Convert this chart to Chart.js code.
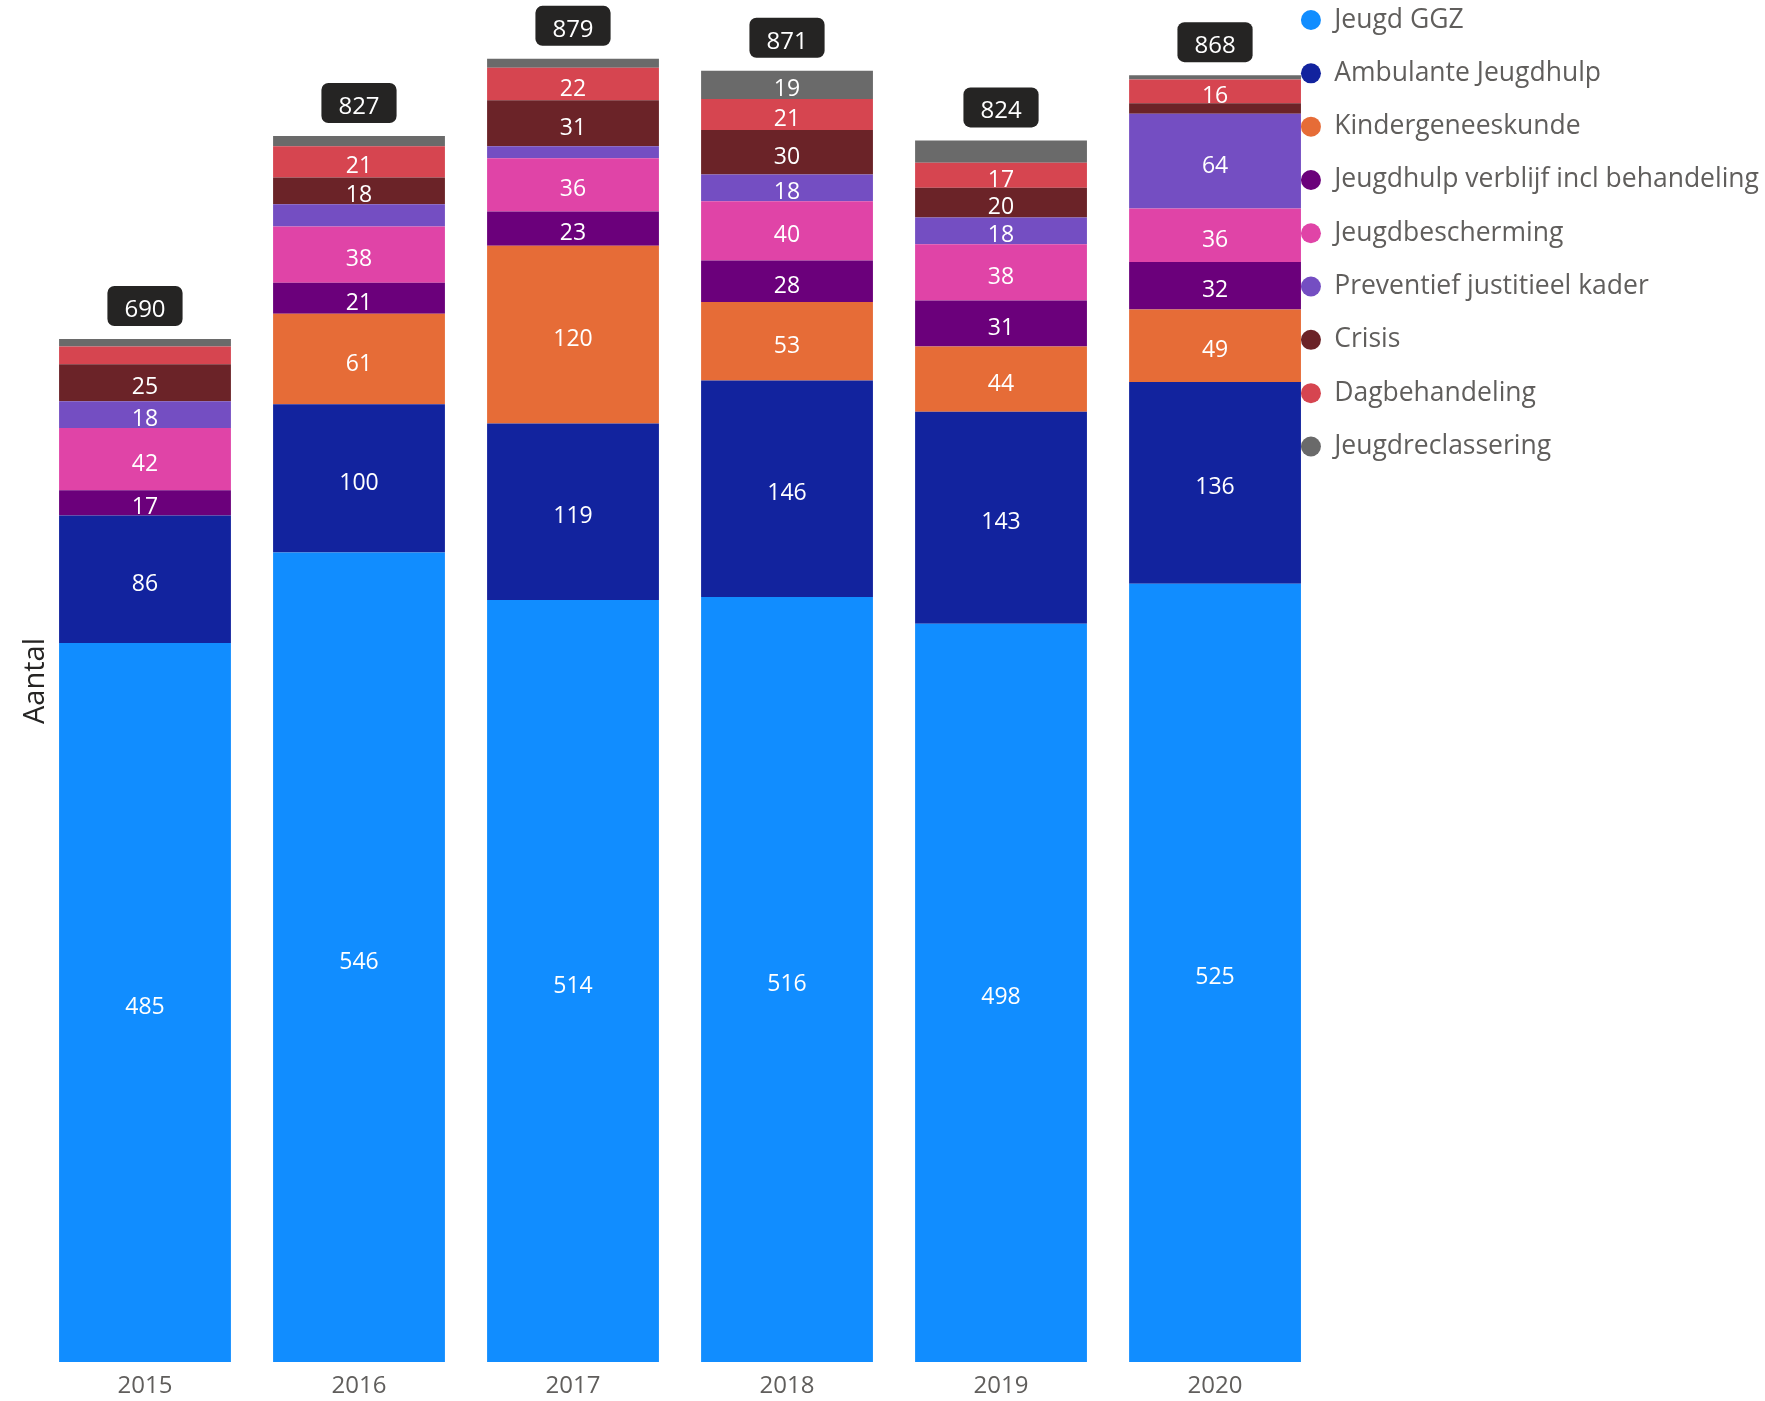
<!DOCTYPE html>
<html>
<head>
<meta charset="utf-8">
<script src="https://cdn.jsdelivr.net/npm/chart.js@4.4.1/dist/chart.umd.min.js"></script>
<style>
  html, body { margin: 0; padding: 0; background: #ffffff; }
  canvas { display: block; }
</style>
</head>
<body>
<canvas id="c" width="1765" height="1401"></canvas>
<script>
// ---- data ----
const years = ['2015', '2016', '2017', '2018', '2019', '2020'];
const seriesNames = [
  'Jeugd GGZ', 'Ambulante Jeugdhulp', 'Kindergeneeskunde',
  'Jeugdhulp verblijf incl behandeling', 'Jeugdbescherming',
  'Preventief justitieel kader', 'Crisis', 'Dagbehandeling', 'Jeugdreclassering'
];
const jeugdGGZ          = [485, 546, 514, 516, 498, 525];
const ambulante         = [86, 100, 119, 146, 143, 136];
const kindergeneeskunde = [0, 61, 120, 53, 44, 49];
const verblijf          = [17, 21, 23, 28, 31, 32];
const jeugdbescherming  = [42, 38, 36, 40, 38, 36];
const preventief        = [18, 15, 8, 18, 18, 64];
const crisis            = [25, 18, 31, 30, 20, 7];
const dagbehandeling    = [12, 21, 22, 21, 17, 16];
const jeugdreclassering = [5, 7, 6, 19, 15, 3];

// ---- style ----
const seriesValues = [jeugdGGZ, ambulante, kindergeneeskunde, verblijf, jeugdbescherming,
                      preventief, crisis, dagbehandeling, jeugdreclassering];
const seriesColors = ['#118DFF', '#12239E', '#E66C37', '#6B007B', '#E044A7',
                      '#744EC2', '#6B2328', '#D64550', '#6A6A6A'];
const FONT = "'Open Sans', 'Noto Sans', sans-serif";
const MIN_LABEL = 16;

const segLabels = {
  id: 'segLabels',
  afterDatasetsDraw(chart) {
    const ctx = chart.ctx;
    ctx.save();
    ctx.textAlign = 'center';
    ctx.textBaseline = 'middle';
    ctx.font = '23px ' + FONT;
    ctx.fillStyle = '#ffffff';
    chart.data.datasets.forEach((ds, i) => {
      const meta = chart.getDatasetMeta(i);
      meta.data.forEach((el, j) => {
        const v = ds.data[j];
        if (v >= MIN_LABEL) ctx.fillText(String(v), el.x, (el.y + el.base) / 2 + 5);
      });
    });
    const yScale = chart.scales.y;
    const meta0 = chart.getDatasetMeta(0);
    ctx.font = '24px ' + FONT;
    years.forEach((yr, j) => {
      const total = chart.data.datasets.reduce((s, ds) => s + (ds.data[j] || 0), 0);
      const top = yScale.getPixelForValue(total);
      const x = meta0.data[j].x;
      const txt = String(total);
      const w = ctx.measureText(txt).width + 34;
      const h = 40;
      const by = top - 13 - h;
      ctx.fillStyle = '#252423';
      ctx.beginPath();
      ctx.roundRect(x - w / 2, by, w, h, 7);
      ctx.fill();
      ctx.fillStyle = '#ffffff';
      ctx.fillText(txt, x, by + h / 2 + 4);
    });
    ctx.restore();
  }
};

const legendShift = {
  id: 'legendShift',
  afterLayout(chart) {
    const lg = chart.legend;
    if (!lg) return;
    lg.top -= 20;
    lg.bottom -= 20;
  }
};

new Chart(document.getElementById('c'), {
  type: 'bar',
  data: {
    labels: years,
    datasets: seriesNames.map((name, i) => ({
      label: name,
      data: seriesValues[i],
      backgroundColor: seriesColors[i],
      borderWidth: 0,
      clip: false,
      categoryPercentage: 1,
      barPercentage: 0.803
    }))
  },
  options: {
    responsive: false,
    animation: false,
    devicePixelRatio: 1,
    layout: { padding: { left: 11.2, right: -4, top: 0, bottom: -9 } },
    scales: {
      x: {
        type: 'linear',
        stacked: true,
        offset: false,
        min: 2014.5748,
        max: 2020.2762,
        grid: { display: false, drawTicks: false, offset: false },
        border: { display: false },
        afterBuildTicks: (axis) => { axis.ticks = years.map(y => ({ value: +y })); },
        ticks: {
          callback: (v) => String(v),
          font: { family: FONT, size: 24 },
          color: '#605E5C',
          padding: 9.6,
          autoSkip: false,
          maxRotation: 0
        }
      },
      y: {
        stacked: true,
        min: 0,
        max: 918.7,
        grid: { display: false, drawTicks: false },
        border: { display: false },
        ticks: { display: false },
        title: {
          display: true,
          text: 'Aantal',
          font: { family: FONT, size: 29 },
          color: '#252423',
          padding: { top: 7, bottom: 1 }
        }
      }
    },
    plugins: {
      tooltip: { enabled: false },
      legend: {
        position: 'right',
        align: 'start',
        maxWidth: 700,
        labels: {
          usePointStyle: true,
          pointStyle: 'circle',
          pointStyleWidth: 20,
          boxHeight: 14.14,
          padding: 26.8,
          color: '#605E5C',
          font: { family: FONT, size: 26.5 }
        }
      }
    }
  },
  plugins: [segLabels, legendShift]
});
</script>
</body>
</html>
